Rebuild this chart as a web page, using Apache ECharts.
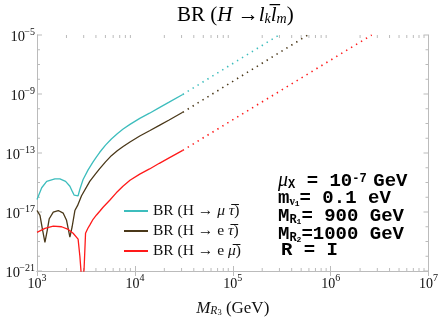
<!DOCTYPE html>
<html><head><meta charset="utf-8">
<script src="https://cdn.jsdelivr.net/npm/echarts@6/dist/echarts.min.js"></script>
<style>html,body{margin:0;padding:0;background:#fff}#c{width:441px;height:322px}</style>
</head><body><div id="c"></div>
<script>
// ---- data ----
const xMin = 1e3, xMax = 1e7, yMin = 1e-21, yMax = 1e-5;
const yTickExps = [-21,-20,-19,-18,-17,-16,-15,-14,-13,-12,-11,-10,-9,-8,-7,-6,-5];
const yLabelExps = [-21, -17, -13, -9, -5];
const xMinorTicks = [2e3,3e3,4e3,5e3,6e3,7e3,8e3,9e3,2e4,3e4,4e4,5e4,6e4,7e4,8e4,9e4,2e5,3e5,4e5,5e5,6e5,7e5,8e5,9e5,2e6,3e6,4e6,5e6,6e6,7e6,8e6,9e6];

const muTauX = [1000, 1117, 1256, 1524, 1714, 1959, 2168, 2307, 2399, 2630, 2742, 2958, 3327, 3741, 4055, 4375, 5012, 5754, 6607, 7586, 8913, 11220, 14125, 17783, 22387, 30830];
const muTauY = [7.1e-17, 4.4e-16, 1.2e-15, 1.74e-15, 1.74e-15, 1.2e-15, 5.6e-16, 2.3e-16, 1.38e-16, 1.26e-16, 3.5e-16, 1.58e-15, 7.2e-15, 2.5e-14, 5.5e-14, 1.12e-13, 3.4e-13, 8.9e-13, 2.0e-12, 4.2e-12, 8.7e-12, 2.24e-11, 5.0e-11, 1.2e-10, 2.8e-10, 9.3e-10];
const muTauDotX = [30830, 297000];
const muTauDotY = [9.3e-10, 1e-5];

const eTauX = [1000, 1073, 1132, 1205, 1274, 1334, 1466, 1648, 1854, 2004, 2168, 2286, 2438, 2594, 2851, 3459, 3981, 4375, 5012, 5754, 6607, 7586, 8913, 11220, 14125, 17783, 22387, 30830];
const eTauY = [1.26e-17, 5.9e-18, 7.8e-19, 8.7e-20, 6.0e-19, 3.5e-18, 9.8e-18, 1.26e-17, 8.3e-18, 2.75e-18, 1.95e-19, 1.0e-18, 1.26e-17, 2.7e-17, 1.26e-16, 1.2e-15, 4.0e-15, 8.7e-15, 2.5e-14, 6.6e-14, 1.41e-13, 2.75e-13, 5.6e-13, 1.41e-12, 3.2e-12, 7.4e-12, 1.74e-11, 5.75e-11];
const eTauDotX = [30830, 586000];
const eTauDotY = [5.75e-11, 1e-5];

const eMuX = [1000, 1205, 1466, 1782, 2084, 2339, 2630, 2742, 2851, 2904, 2958, 3027, 3133, 3311, 3459, 3741, 4055, 4375, 4732, 5534, 6457, 7551, 8913, 11220, 14125, 17783, 22387, 30830];
const eMuY = [4.2e-19, 7.8e-19, 1.1e-18, 1.0e-18, 6.6e-19, 3.6e-19, 1.45e-19, 1.0e-20, 3.2e-22, 1e-23, 3.2e-22, 1.35e-21, 3.6e-19, 7.9e-19, 1.3e-18, 3.2e-18, 6.3e-18, 1.12e-17, 2.1e-17, 6.3e-17, 2.0e-16, 5.6e-16, 1.41e-15, 3.7e-15, 8.3e-15, 2.0e-14, 4.7e-14, 1.51e-13];
const eMuDotX = [30830, 2630000];
const eMuDotY = [1.51e-13, 1e-5];

const seriesNames = ['mutau', 'etau', 'emu'];
const legendLabels = {
  mutau: '{n|BR (H → }{i|μ}{n| }{i|τ\u0305}{n|)}',
  etau: '{n|BR (H → e }{i|τ\u0305}{n|)}',
  emu: '{n|BR (H → e }{i|μ\u0305}{n|)}'
};
const colors = { mutau: '#3dbdbd', etau: '#4a3819', emu: '#ff1a1a' };

// ---- helpers ----
const zip = (xs, ys) => xs.map((x, i) => [x, ys[i]]);
const serif = '"Liberation Serif","Times New Roman",serif';
const mono = '"Liberation Mono","Courier New",monospace';
const axisGray = '#bbbbbb';
const tickRich = {
  b: { fontFamily: serif, fontSize: 14, color: '#111', lineHeight: 18, verticalAlign: 'bottom' },
  s: { fontFamily: serif, fontSize: 10, color: '#111', lineHeight: 11, verticalAlign: 'top' }
};
const expOf = v => Math.round(Math.log10(v));
const expStr = e => (e < 0 ? '\u2212' + (-e) : String(e));
const supLabel = e => '{b|10}{s|' + expStr(e) + '}';

function lineSeries(name, data, dotted) {
  const key = name.replace('_dot', '');
  return {
    type: 'line', name: name, data: data, symbol: 'none', smooth: false, clip: true,
    silent: true,
    lineStyle: { color: colors[key], width: dotted ? 1.6 : 1.3, type: dotted ? [1.4, 4.4] : 'solid', cap: 'butt' },
    itemStyle: { color: colors[key] },
    z: 3
  };
}

const chart = echarts.init(document.getElementById('c'), null, { renderer: 'canvas' });
const titleTok = (size, italic) => ({ fontFamily: serif, fontSize: size, fontStyle: italic ? 'italic' : 'normal', fontWeight: 'normal', color: '#000', lineHeight: size >= 19 ? 24 : size, verticalAlign: 'bottom' });
const option = {
  animation: false,
  backgroundColor: '#fff',
  title: {
    text: '{n|BR (}{i|H}{n| →}{i|l}{sub|k}{i|l\u0305}{sub|m}{n|)}',
    left: 172, top: -3,
    textStyle: { fontWeight: 'normal', rich: { n: titleTok(21, false), i: titleTok(21, true), sub: titleTok(14, true) } }
  },
  grid: { left: 37, right: 11, top: 35, bottom: 45 },
  legend: {
    orient: 'vertical', left: 124, top: 203, padding: 0, itemWidth: 24, itemHeight: 2, itemGap: 4,
    data: seriesNames.map(n => ({ name: n, icon: 'rect' })),
    formatter: n => legendLabels[n],
    textStyle: {
      rich: {
        n: { fontFamily: serif, fontSize: 15.5, color: '#111', lineHeight: 16 },
        i: { fontFamily: serif, fontSize: 15.5, fontStyle: 'italic', color: '#111', lineHeight: 16 }
      }
    },
    selectedMode: false
  },
  xAxis: [{
    type: 'log', logBase: 10, min: xMin, max: xMax, position: 'bottom',
    axisLine: { lineStyle: { color: axisGray, width: 1 } },
    axisTick: { inside: true, length: 5, lineStyle: { color: axisGray } },
    axisLabel: { formatter: v => supLabel(expOf(v)), margin: 2, rich: tickRich },
    splitLine: { show: false },
    name: '{i|M}{s|R}{ss|3}{n| (GeV)}', nameLocation: 'middle', nameGap: 26,
    nameTextStyle: {
      rich: {
        i: { fontFamily: serif, fontSize: 17, fontStyle: 'italic', color: '#111', lineHeight: 20, verticalAlign: 'bottom' },
        s: { fontFamily: serif, fontSize: 11.5, fontStyle: 'italic', color: '#111', lineHeight: 12, verticalAlign: 'bottom' },
        ss: { fontFamily: serif, fontSize: 8.5, color: '#111', lineHeight: 8, verticalAlign: 'bottom' },
        n: { fontFamily: serif, fontSize: 17, color: '#111', lineHeight: 20, verticalAlign: 'bottom' }
      }
    }
  }, {
    type: 'log', logBase: 10, min: xMin, max: xMax, position: 'top',
    axisLine: { lineStyle: { color: axisGray, width: 1 } },
    axisTick: { inside: true, length: 5, lineStyle: { color: axisGray } },
    axisLabel: { show: false }, splitLine: { show: false }
  }],
  yAxis: [{
    type: 'log', logBase: 10, min: yMin, max: yMax, position: 'left',
    axisLine: { lineStyle: { color: axisGray, width: 1 } },
    axisTick: { show: false }, axisLabel: { show: false }, splitLine: { show: false }
  }, {
    type: 'log', logBase: 10, min: yMin, max: yMax, position: 'right',
    axisLine: { lineStyle: { color: axisGray, width: 1 } },
    axisTick: { show: false }, axisLabel: { show: false }, splitLine: { show: false }
  }],
  series: [
    lineSeries('mutau', zip(muTauX, muTauY), false),
    lineSeries('etau', zip(eTauX, eTauY), false),
    lineSeries('emu', zip(eMuX, eMuY), false),
    lineSeries('mutau_dot', zip(muTauDotX, muTauDotY), true),
    lineSeries('etau_dot', zip(eTauDotX, eTauDotY), true),
    lineSeries('emu_dot', zip(eMuDotX, eMuDotY), true),
    { // x minor ticks (bottom and top frame)
      type: 'custom', silent: true, clip: false, z: 2,
      data: xMinorTicks.map(v => [v, yMin]),
      renderItem: (params, api) => {
        const b = api.coord([api.value(0), yMin]);
        const t = api.coord([api.value(0), yMax]);
        const st = { stroke: axisGray, lineWidth: 1 };
        return { type: 'group', children: [
          { type: 'line', shape: { x1: b[0], y1: b[1], x2: b[0], y2: b[1] - 3 }, style: st },
          { type: 'line', shape: { x1: t[0], y1: t[1], x2: t[0], y2: t[1] + 3 }, style: st }
        ] };
      }
    },
    { // y decade ticks and labels (left and right frame)
      type: 'custom', silent: true, clip: false, z: 2,
      data: yTickExps.map(e => [xMin, Math.pow(10, e), e]),
      renderItem: (params, api) => {
        const e = api.value(2);
        const l = api.coord([xMin, api.value(1)]);
        const r = api.coord([xMax, api.value(1)]);
        const labelled = yLabelExps.indexOf(e) >= 0;
        const len = labelled ? 5 : 3;
        const st = { stroke: axisGray, lineWidth: 1 };
        const children = [
          { type: 'line', shape: { x1: l[0], y1: l[1], x2: l[0] + len, y2: l[1] }, style: st },
          { type: 'line', shape: { x1: r[0], y1: r[1], x2: r[0] - len, y2: r[1] }, style: st }
        ];
        if (labelled) {
          children.push({ type: 'text', x: l[0] - 2, y: l[1] + 2,
            style: { text: expStr(e), font: '10px ' + serif, fill: '#111', align: 'right', verticalAlign: 'bottom' } });
          children.push({ type: 'text', x: l[0] - 2 - (e <= -10 ? 15 : 10), y: l[1] + 2,
            style: { text: '10', font: '14.5px ' + serif, fill: '#111', align: 'right', verticalAlign: 'middle' } });
        }
        return { type: 'group', children: children };
      }
    }
  ]
};

// annotation box texts
const annoRich = {
  i: { fontFamily: serif, fontSize: 20, fontStyle: 'italic', fill: '#000', lineHeight: 18, verticalAlign: 'bottom' },
  b: { fontFamily: mono, fontSize: 19, fontWeight: 'bold', fill: '#000', lineHeight: 18, verticalAlign: 'bottom' },
  sp: { fontFamily: mono, fontSize: 11, fontWeight: 'bold', fill: '#000', lineHeight: 18, verticalAlign: 'bottom' },
  s: { fontFamily: mono, fontSize: 12, fontWeight: 'bold', fill: '#000', lineHeight: 11, verticalAlign: 'bottom' },
  ss: { fontFamily: mono, fontSize: 8, fontWeight: 'bold', fill: '#000', lineHeight: 8, verticalAlign: 'bottom' },
  sv: { fontFamily: serif, fontSize: 12, fontWeight: 'bold', fill: '#000', lineHeight: 11, verticalAlign: 'bottom' },
  p: { fontFamily: mono, fontSize: 12, fontWeight: 'bold', fill: '#000', lineHeight: 18, verticalAlign: 'top' }
};
const annoLines = [
  [278, 182, '{i|μ}{s|X}{b| = 10}{p|-7}{sp| }{b|GeV}'],
  [278, 199, '{b|m}{sv|ν}{ss|1}{b|= 0.1 eV}'],
  [278, 217, '{b|M}{s|R}{ss|1}{b|= 900 GeV}'],
  [278, 235, '{b|M}{s|R}{ss|2}{b|=1000 GeV}'],
  [281, 251, '{b|R = I}']
];
option.graphic = annoLines.map(l => ({
  type: 'text', x: l[0], y: l[1], z: 10,
  style: { text: l[2], verticalAlign: 'middle', rich: annoRich }
}));

chart.setOption(option);
</script></body></html>
